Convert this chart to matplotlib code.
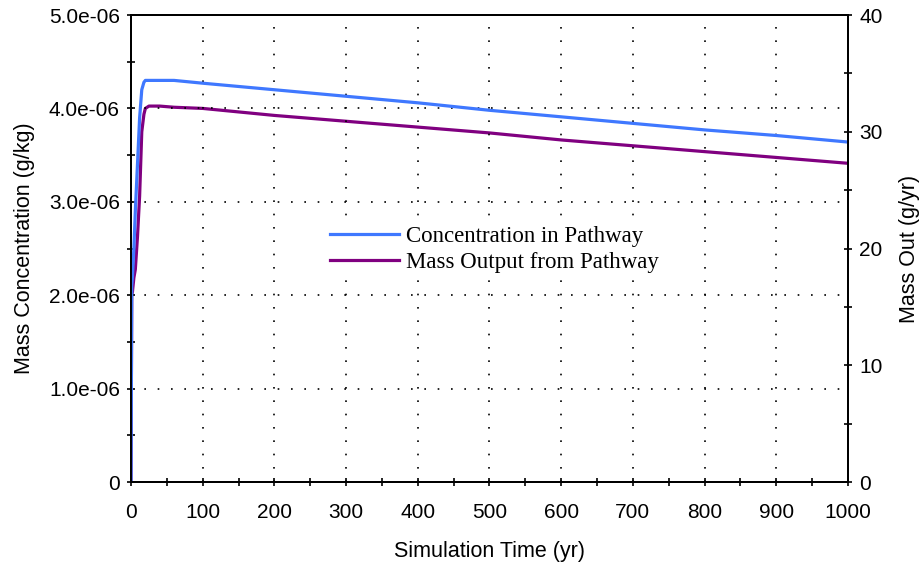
import matplotlib
matplotlib.use("Agg")
import matplotlib.pyplot as plt
from matplotlib.ticker import FuncFormatter, MultipleLocator

# simulation time (yr)
time = [0, 1, 2, 4, 6, 9, 12, 15, 18, 20, 25, 40, 60, 100, 200, 300, 400, 500,
        600, 700, 800, 900, 1000]
# concentration in pathway (g/kg)
conc = [0.0, 2.1e-6, 2.2e-6, 2.5e-6, 2.9e-6, 3.4e-6, 3.9e-6, 4.2e-6, 4.28e-6,
        4.30e-6, 4.30e-6, 4.30e-6, 4.30e-6, 4.27e-6, 4.20e-6, 4.13e-6, 4.06e-6,
        3.98e-6, 3.91e-6, 3.84e-6, 3.77e-6, 3.71e-6, 3.64e-6]
# mass output from pathway (g/yr)
mass = [0.0, 16.0, 16.3, 17.5, 18.2, 21.0, 24.5, 30.0, 31.5, 32.0, 32.2, 32.2,
        32.1, 32.0, 31.4, 30.9, 30.4, 29.9, 29.3, 28.8, 28.3, 27.8, 27.3]

fig = plt.figure(figsize=(9.22, 5.67), dpi=100, facecolor="white")
ax = fig.add_axes([0.1421, 0.1499, 0.7776, 0.8236])
ax2 = ax.twinx()

blue = "#3f78ff"
purple = "#800080"

l2, = ax2.plot(time, mass, color=purple, lw=2.3, label="Mass Output from Pathway")
l1, = ax.plot(time, conc, color=blue, lw=2.3, label="Concentration in Pathway")
ax.set_zorder(ax2.get_zorder() + 1)
ax.patch.set_visible(False)

ax.set_xlim(0, 1000)
ax.set_ylim(0, 5e-6)
ax2.set_ylim(0, 40)

ax.xaxis.set_major_locator(MultipleLocator(100))
ax.xaxis.set_minor_locator(MultipleLocator(50))
ax.yaxis.set_major_locator(MultipleLocator(1e-6))
ax.yaxis.set_minor_locator(MultipleLocator(0.5e-6))
ax.yaxis.set_major_formatter(FuncFormatter(lambda v, p: "0" if v == 0 else f"{v:.1e}"))
ax2.yaxis.set_major_locator(MultipleLocator(10))
ax2.yaxis.set_minor_locator(MultipleLocator(5))

for a in (ax, ax2):
    a.tick_params(which="both", direction="inout", length=6, width=1.2, colors="black",
                  labelsize=15, pad=5)
    for s in a.spines.values():
        s.set_linewidth(1.4)
ax.tick_params(axis="x", pad=12)

ax.grid(True, which="major", color="black", linestyle=(0, (1, 7)), linewidth=1.2)
ax.set_axisbelow(True)

for a in (ax, ax2):
    for t in a.get_xticklabels() + a.get_yticklabels():
        t.set_family("Liberation Sans")
lab_font = dict(family="Liberation Sans", fontsize=15.5)
ax.set_xlabel("Simulation Time (yr)", labelpad=14, **lab_font)
ax.set_ylabel("Mass Concentration (g/kg)", labelpad=10, **lab_font)
ax2.set_ylabel("Mass Out (g/yr)", labelpad=12, **lab_font)

leg = ax.legend([l1, l2], [l1.get_label(), l2.get_label()],
                loc="center left", bbox_to_anchor=(0.2775, 0.498),
                prop={"family": "Liberation Serif", "size": 16.5},
                frameon=True, facecolor="white", edgecolor="none", framealpha=1,
                handlelength=3.0, handletextpad=0.3, labelspacing=0.2,
                borderpad=0.0, borderaxespad=0.0)
leg.get_frame().set_linewidth(0)

fig.savefig("out.png", dpi=100, facecolor="white")
